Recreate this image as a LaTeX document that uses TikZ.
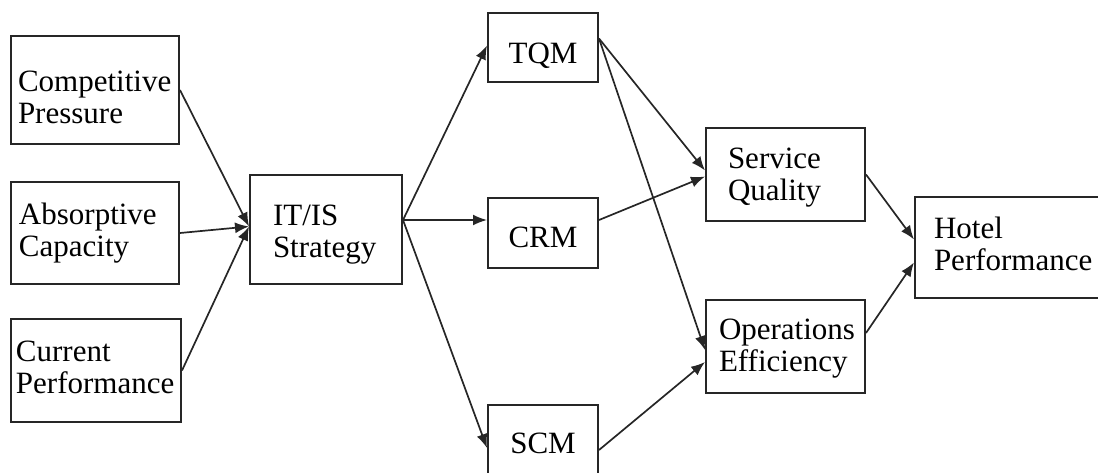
\documentclass[tikz,border=0pt]{standalone}
\usepackage{fontspec}
\setmainfont{Liberation Serif}
\usetikzlibrary{arrows.meta}
\definecolor{ink}{HTML}{262626}
\newcommand\dn[1]{\rule{0pt}{#1pt}}
\newcommand\up[1]{\rule[-#1pt]{0pt}{#1pt}}
\begin{document}
\begin{tikzpicture}[x=1pt,y=-1pt,
  box/.style={draw=ink, line width=2pt, fill=white, inner ysep=0pt,
    font=\fontsize{31}{32}\selectfont, text=black, align=left},
  arr/.style={draw=ink, line width=1.7pt, -{Latex[length=14pt,width=11pt]}}]
\useasboundingbox (0,0) rectangle (1098,472);
% left column
\node[box, minimum width=168pt, minimum height=108pt, inner xsep=7pt, text width=154pt] (cp) at (95,90) {\dn{35.5}Competitive\\Pressure};
\node[box, minimum width=168pt, minimum height=102pt, inner xsep=8pt, text width=152pt] (ac) at (95,233) {Absorptive\\Capacity};
\node[box, minimum width=170pt, minimum height=103pt, inner xsep=5pt, text width=160pt] (cur) at (96,370.5) {Current\\Performance\up{6}};
% IT/IS
\node[box, minimum width=152pt, minimum height=109pt, inner xsep=23pt, text width=106pt] (it) at (326,229.5) {\dn{31.5}IT/IS\\Strategy};
% middle column
\node[box, minimum width=110pt, minimum height=69pt, align=center, inner xsep=0pt] (tqm) at (543,47.5) {\dn{37.5}TQM};
\node[box, minimum width=110pt, minimum height=70pt, align=center, inner xsep=0pt] (crm) at (543,233) {\dn{29.5}CRM};
\node[box, minimum width=110pt, minimum height=70pt, align=center, inner xsep=0pt] (scm) at (543,440) {\dn{27.5}SCM};
% outcomes
\node[box, minimum width=159pt, minimum height=93pt, inner xsep=22pt, text width=115pt] (sq) at (785.5,174.5) {\dn{27.5}Service\\Quality};
\node[box, minimum width=159pt, minimum height=93pt, inner xsep=13pt, text width=133pt] (oe) at (785.5,346.5) {\dn{25.5}Operations\\Efficiency};
\node[box, minimum width=185pt, minimum height=101pt, inner xsep=19pt, text width=147pt] (hp) at (1007.5,247.5) {Hotel\\Performance\up{8}};
% connector end points
\coordinate (itout) at ([yshift=9.5pt]it.east);
\coordinate (tqmout) at ([yshift=9pt]tqm.east);
\coordinate (crmout) at ([yshift=13pt]crm.east);
\coordinate (scmout) at ([yshift=-10pt]scm.east);
\coordinate (sqin1) at ([yshift=4pt]sq.west);
\coordinate (sqin2) at ([yshift=-2pt]sq.west);
\coordinate (oein1) at ([yshift=-3.5pt]oe.west);
\coordinate (oein2) at ([yshift=-15.5pt]oe.west);
\coordinate (oeout) at ([yshift=13.5pt]oe.east);
\coordinate (hpin1) at ([yshift=8pt]hp.west);
\coordinate (hpin2) at ([yshift=-15pt]hp.west);
\coordinate (itin) at ([yshift=3pt]it.west);
% connectors
\draw[arr] (cp.east) -- (itin);
\draw[arr] (ac.east) -- (itin);
\draw[arr] (cur.east) -- (itin);
\draw[arr] (itout) -- ([yshift=2pt]tqm.west);
\draw[arr] (itout) -- (itout -| crm.west);
\draw[arr] (itout) -- ([yshift=-8pt]scm.west);
\draw[arr] (tqmout) -- (sqin1);
\draw[arr] (tqmout) -- (oein1);
\draw[arr] (crmout) -- (sqin2);
\draw[arr] (scmout) -- (oein2);
\draw[arr] (sq.east) -- (hpin1);
\draw[arr] (oeout) -- (hpin2);
\end{tikzpicture}
\end{document}
